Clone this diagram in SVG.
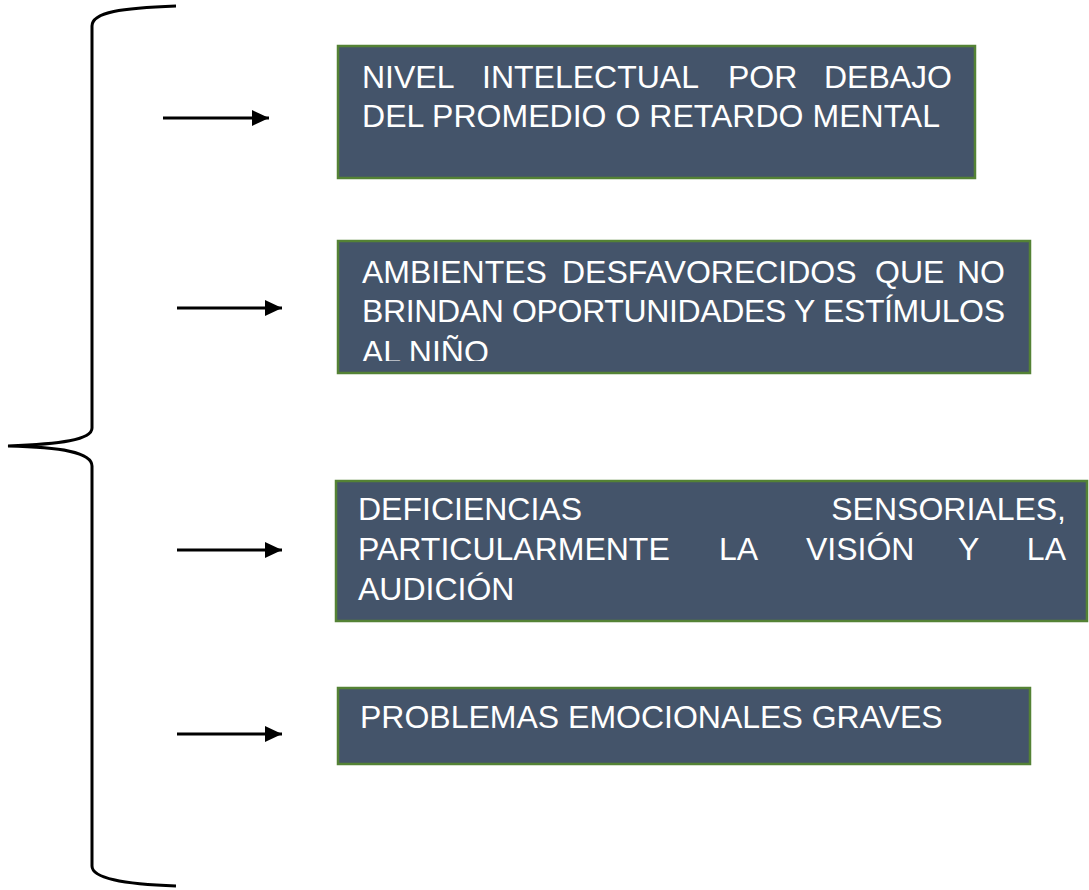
<svg xmlns="http://www.w3.org/2000/svg" width="1089" height="890" viewBox="0 0 1089 890">
<style>
.box{fill:#44546a;stroke:#548235;stroke-width:2.5}
.t{font-family:"Liberation Sans",Arial,sans-serif;font-size:32px;fill:#ffffff}
.con{stroke:#000;stroke-width:3;fill:none}
</style>
<defs>
<marker id="ah" markerUnits="userSpaceOnUse" markerWidth="18" markerHeight="18" viewBox="0 0 18 18" refX="17" refY="9" orient="auto">
<path d="M0,1 L17,9 L0,17 Z" fill="#000"/>
</marker>
<clipPath id="c2"><rect x="338" y="241" width="692" height="120"/></clipPath>
</defs>
<rect width="1089" height="890" fill="#fff"/>
<g id="connectors">
<path class="con" stroke-width="3.5" d="M176,6 C122,8 92,12 92,26 L92,428 C92,440 60,444 8,446 C60,447 92,452 92,466 L92,866 C92,878 122,884 176,886"/>
<line class="con" x1="163" y1="118" x2="269" y2="118" marker-end="url(#ah)"/>
<line class="con" x1="177" y1="308" x2="282" y2="308" marker-end="url(#ah)"/>
<line class="con" x1="177" y1="550" x2="282" y2="550" marker-end="url(#ah)"/>
<line class="con" x1="177" y1="734" x2="282" y2="734" marker-end="url(#ah)"/>
</g>
<g id="n1">
<rect class="box" x="338" y="46" width="637" height="132"/>
<text class="t" x="362" y="88">NIVEL</text>
<text class="t" x="482" y="88">INTELECTUAL</text>
<text class="t" x="728" y="88">POR</text>
<text class="t" x="952" y="88" text-anchor="end">DEBAJO</text>
<text class="t" x="362" y="127" textLength="578" lengthAdjust="spacing">DEL PROMEDIO O RETARDO MENTAL</text>
</g>
<g id="n2">
<rect class="box" x="338" y="241" width="692" height="132"/>
<g clip-path="url(#c2)">
<text class="t" x="362" y="283">AMBIENTES</text>
<text class="t" x="562" y="283">DESFAVORECIDOS</text>
<text class="t" x="875" y="283">QUE</text>
<text class="t" x="1005" y="283" text-anchor="end">NO</text>
<text class="t" x="362" y="322" textLength="643" lengthAdjust="spacing">BRINDAN OPORTUNIDADES Y ESTÍMULOS</text>
<text class="t" x="362" y="363">AL NIÑO</text>
</g>
</g>
<g id="n3">
<rect class="box" x="336" y="481" width="751" height="140"/>
<text class="t" x="358" y="520">DEFICIENCIAS</text>
<text class="t" x="1066" y="520" text-anchor="end">SENSORIALES,</text>
<text class="t" x="358" y="560">PARTICULARMENTE</text>
<text class="t" x="719" y="560">LA</text>
<text class="t" x="806" y="560">VISIÓN</text>
<text class="t" x="958" y="560">Y</text>
<text class="t" x="1066" y="560" text-anchor="end">LA</text>
<text class="t" x="358" y="600">AUDICIÓN</text>
</g>
<g id="n4">
<rect class="box" x="338" y="688" width="692" height="76"/>
<text class="t" x="360" y="728">PROBLEMAS EMOCIONALES GRAVES</text>
</g>
</svg>
